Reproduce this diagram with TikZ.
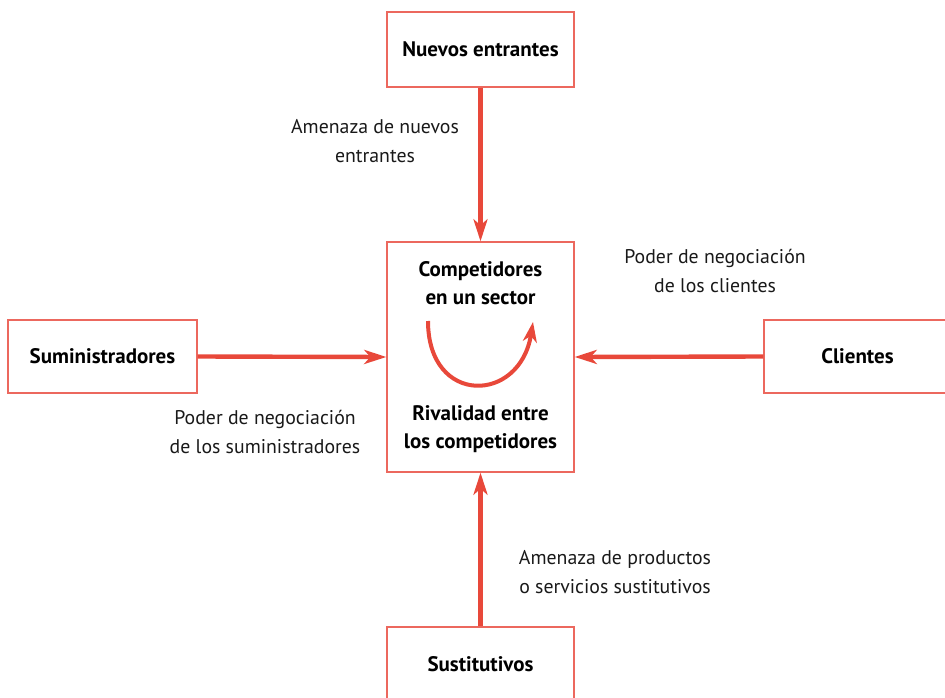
\documentclass[tikz,border=0pt]{standalone}
\usepackage{fontspec}
\setmainfont{PT Sans}
\usetikzlibrary{arrows.meta}

\definecolor{rojo}{RGB}{232,72,58}
\definecolor{rojoclaro}{RGB}{236,104,94}

\tikzset{
  caja/.style={draw=rojoclaro, line width=1.4pt, fill=white, inner sep=0pt,
    font=\fontsize{21}{28}\selectfont\bfseries, align=center},
  flecha/.style={draw=rojo, line width=4.4pt,
    -{Stealth[length=22pt, width=14pt, inset=6pt]}},
  texto/.style={font=\fontsize{19.8}{28.5}\selectfont, align=center, text=black!90}
}

\begin{document}
\begin{tikzpicture}[x=1pt, y=-1pt]

\useasboundingbox (0,0) rectangle (945,698);
\clip (0,0) rectangle (945,698);

% cajas
\node[caja, minimum width=187pt, minimum height=230pt] (centro) at (480.5,357) {};
\node[caja, minimum width=187pt, minimum height=75pt] (nuevos) at (480.5,49.5) {Nuevos entrantes};
\node[caja, minimum width=189pt, minimum height=73pt] (sumin) at (102.5,356.5) {Suministradores};
\node[caja, minimum width=187pt, minimum height=73pt] (clientes) at (857.5,356.5) {Clientes};
\node[caja, minimum width=187pt, minimum height=75pt] (sustit) at (480.5,664.5) {Sustitutivos};

% textos de la caja central
\node[caja, draw=none, fill=none] (compet) at (480.5,283) {Competidores\\en un sector};
\node[caja, draw=none, fill=none] (rival) at (480.5,429) {Rivalidad entre\\los competidores};

% flechas
\draw[flecha] (nuevos.south) -- (centro.north);
\draw[flecha] (sustit.north) -- (centro.south);
\draw[flecha] (sumin.east) -- (centro.west);
\draw[flecha] (clientes.west) -- (centro.east);

% rivalidad
\coordinate (arcoA) at (428,321);
\coordinate (arcoB) at (533,322);
\draw[flecha, line width=4pt, -{Stealth[length=20pt, width=14pt, inset=6pt]}]
  (arcoA) .. controls (428,406) and (520,404) .. (arcoB);

% etiquetas
\node[texto] (amenazaN) at (375,141) {Amenaza de nuevos\\entrantes};
\node[texto] (poderC) at (715,271) {Poder de negociación\\de los clientes};
\node[texto] (poderS) at (265,432) {Poder de negociación\\de los suministradores};
\node[texto] (amenazaS) at (615,572) {Amenaza de productos\\o servicios sustitutivos};

\end{tikzpicture}
\end{document}
